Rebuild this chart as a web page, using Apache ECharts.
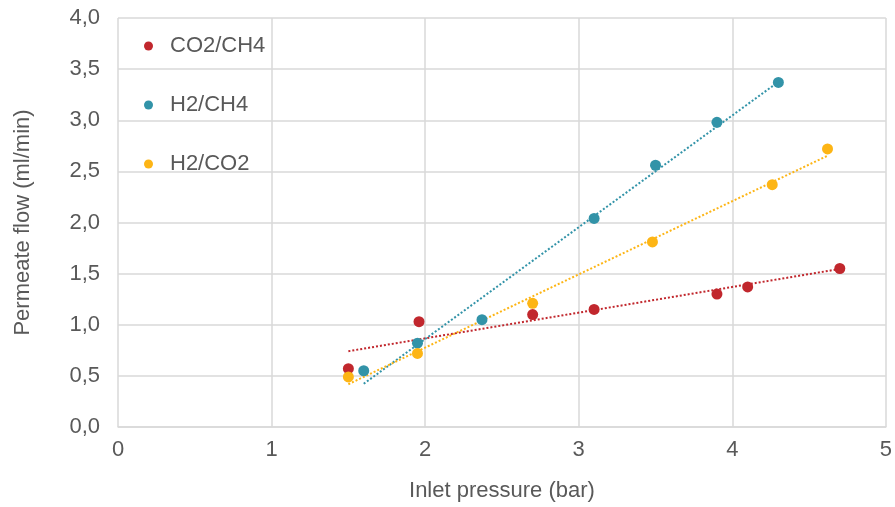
<!DOCTYPE html>
<html>
<head>
<meta charset="utf-8">
<script src="https://cdn.jsdelivr.net/npm/echarts@6/dist/echarts.min.js"></script>
<style>html,body{margin:0;padding:0;background:#fff}#c{width:895px;height:507px}</style>
</head>
<body>
<div id="c"></div>
<script>
const seriesNames = ['CO2/CH4', 'H2/CH4', 'H2/CO2'];
const co2ch4X = [1.50, 1.96, 2.70, 3.10, 3.90, 4.10, 4.70];
const co2ch4Y = [0.57, 1.03, 1.10, 1.15, 1.30, 1.37, 1.55];
const h2ch4X = [1.60, 1.95, 2.37, 3.10, 3.50, 3.90, 4.30];
const h2ch4Y = [0.55, 0.82, 1.05, 2.04, 2.56, 2.98, 3.37];
const h2co2X = [1.50, 1.95, 2.70, 3.48, 4.26, 4.62];
const h2co2Y = [0.49, 0.72, 1.21, 1.81, 2.37, 2.72];
const colors = ['#C1272D', '#3293A8', '#FDB515'];

function pairs(xs, ys) { return xs.map((x, i) => [x, ys[i]]); }
function fit(xs, ys) {
  const n = xs.length;
  const mx = xs.reduce((a, b) => a + b, 0) / n;
  const my = ys.reduce((a, b) => a + b, 0) / n;
  let sxy = 0, sxx = 0;
  for (let i = 0; i < n; i++) { sxy += (xs[i] - mx) * (ys[i] - my); sxx += (xs[i] - mx) ** 2; }
  const b = sxy / sxx, a = my - b * mx;
  const x0 = Math.min(...xs), x1 = Math.max(...xs);
  return [[x0, a + b * x0], [x1, a + b * x1]];
}
const sets = [[co2ch4X, co2ch4Y], [h2ch4X, h2ch4Y], [h2co2X, h2co2Y]];
const series = [];
sets.forEach((s, i) => {
  series.push({
    name: seriesNames[i] + ' trend', type: 'line', data: fit(s[0], s[1]),
    symbol: 'none', silent: true, z: 2,
    lineStyle: { color: colors[i], width: 2, type: [2, 2] }
  });
});
sets.forEach((s, i) => {
  series.push({
    name: seriesNames[i], type: 'scatter', data: pairs(s[0], s[1]),
    symbol: 'circle', symbolSize: 11, z: 3,
    itemStyle: { color: colors[i], opacity: 1 }
  });
});
const fmt = v => v.toFixed(1).replace('.', ',');
const font = 'Liberation Sans, Arial, sans-serif';
const chart = echarts.init(document.getElementById('c'));
chart.setOption({
  animation: false,
  color: colors,
  textStyle: { fontFamily: font },
  grid: { left: 118, right: 6, top: 18, bottom: 79, containLabel: false },
  legend: {
    data: seriesNames, orient: 'vertical', left: 139, top: 30, itemGap: 37,
    icon: 'circle', itemWidth: 9, itemHeight: 9,
    textStyle: { fontSize: 22, color: '#595959', fontFamily: font, padding: [0, 0, 0, 12] }
  },
  xAxis: {
    type: 'value', min: 0, max: 5, interval: 1,
    name: 'Inlet pressure (bar)', nameLocation: 'middle', nameGap: 53,
    nameTextStyle: { fontSize: 22, color: '#595959' },
    axisLine: { lineStyle: { color: '#d9d9d9', width: 1.5 } },
    axisTick: { show: false },
    axisLabel: { fontSize: 22, color: '#595959', margin: 12 },
    splitLine: { lineStyle: { color: '#d9d9d9', width: 1.5 } }
  },
  yAxis: {
    type: 'value', min: 0, max: 4, interval: 0.5,
    name: 'Permeate flow (ml/min)', nameLocation: 'middle', nameGap: 84,
    nameTextStyle: { fontSize: 22, color: '#595959' },
    axisLine: { show: false }, axisTick: { show: false },
    axisLabel: { fontSize: 22, color: '#595959', margin: 18, formatter: fmt },
    splitLine: { lineStyle: { color: '#d9d9d9', width: 1.5 } }
  },
  series: series
});
</script>
</body>
</html>
